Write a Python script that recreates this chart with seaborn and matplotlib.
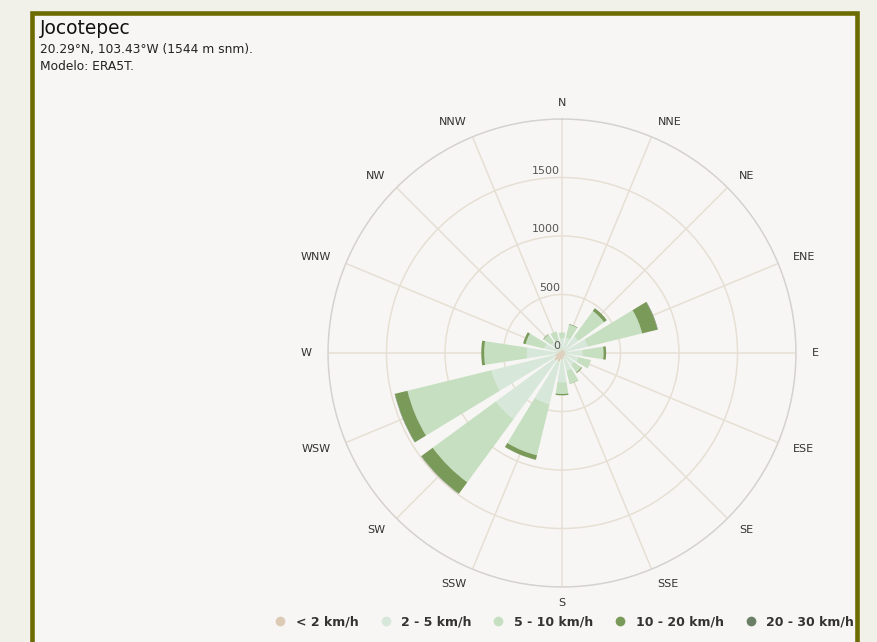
import numpy as np
import seaborn as sns
import matplotlib.pyplot as plt
from matplotlib.patches import Rectangle
from matplotlib.lines import Line2D

## Data: ========================================================================
directions = ["N", "NNE", "NE", "ENE", "E", "ESE", "SE", "SSE",
              "S", "SSW", "SW", "WSW", "W", "WNW", "NW", "NNW"]
speed_bins = ["< 2 km/h", "2 - 5 km/h", "5 - 10 km/h", "10 - 20 km/h", "20 - 30 km/h"]
calm_lt2 = [25, 25, 25, 25, 25, 25, 30, 35, 55, 75, 80, 60, 35, 25, 20, 20]
spd_2_5 = [100, 110, 150, 200, 150, 120, 100, 120, 195, 375, 620, 560, 265, 130, 95, 95]
spd_5_10 = [50, 115, 270, 480, 180, 110, 75, 115, 100, 450, 670, 740, 365, 165, 80, 75]
spd_10_20 = [0, 5, 30, 135, 22, 0, 8, 2, 12, 40, 120, 110, 25, 22, 5, 0]
spd_20_30 = [0, 0, 0, 4, 0, 0, 0, 0, 0, 0, 3, 3, 0, 0, 0, 0]
r_ticks = [0, 500, 1000, 1500]
r_max = 2000

title = "Jocotepec"
subtitle = ["20.29°N, 103.43°W (1544 m snm).", "Modelo: ERA5T."]

## Style: =======================================================================
page_bg, box_bg, frame_col = "#f1f1ea", "#f8f6f5", "#6b6b00"
grid_col = "#e6dfd3"
colors = sns.color_palette(["#dccab4", "#d7e7d9", "#c5dfc0", "#7a9a5a", "#6a7f66"])

sns.set_theme(style="white")
plt.rcParams["font.family"] = ["DejaVu Sans"]

W, H = 878, 642
fig = plt.figure(figsize=(W / 100, H / 100), dpi=100, facecolor=page_bg)

# chart box with olive frame
fig.add_artist(Rectangle((32.5 / W, -0.1), 825 / W, 1.1 - 12.5 / H,
                         transform=fig.transFigure, facecolor=box_bg,
                         edgecolor="none", zorder=-2))

cx, cy, rad = 562, 353, 234
ax = fig.add_axes([(cx - rad) / W, (H - cy - rad) / H, 2 * rad / W, 2 * rad / H],
                  projection="polar")
ax.set_facecolor("none")
ax.set_theta_zero_location("N")
ax.set_theta_direction(-1)

theta = np.deg2rad(np.arange(len(directions)) * 22.5)
width = np.deg2rad(22.5 * 0.78)
bottom = np.zeros(len(directions))
for lab, vals, col in zip(speed_bins, [calm_lt2, spd_2_5, spd_5_10, spd_10_20, spd_20_30], colors):
    vals = np.array(vals, dtype=float)
    ax.bar(theta, vals, width=width, bottom=bottom, color=col, edgecolor="none",
           linewidth=0, zorder=3, label=lab)
    bottom += vals

ax.set_ylim(0, r_max)
ax.set_yticks(r_ticks[1:] + [r_max])
ax.set_yticklabels([])
ax.set_xticks(theta)
ax.set_xticklabels([])
ax.grid(True, color=grid_col, linewidth=1.1, zorder=0)
ax.spines["polar"].set_color("#d4d2cf")
ax.spines["polar"].set_linewidth(1.0)

# radial labels along N axis
for v in r_ticks:
    ax.annotate(str(v), xy=(0, v), xytext=(-1.5, 5.0), textcoords="offset points",
                ha="right", va="center", fontsize=8, color="#555555", zorder=5)

# direction labels (left side right-aligned, right side left-aligned)
for t, d in zip(theta, directions):
    s = np.sin(t)
    ha = "center" if abs(s) < 0.01 else ("left" if s > 0 else "right")
    ax.text(t, r_max * 250 / rad, d, ha=ha, va="center", fontsize=8,
            color="#333333", clip_on=False)

# titles
fig.text(40 / W, 1 - 29 / H, title, fontsize=13.4, color="#111111", va="center")
for i, line in enumerate(subtitle):
    fig.text(40 / W, 1 - (50 + 16 * i) / H, line, fontsize=8.8, color="#222222", va="center")

# legend
handles = [Line2D([], [], marker="o", linestyle="none", markersize=7,
                  markerfacecolor=c, markeredgecolor="none") for c in colors]
fig.legend(handles, speed_bins, ncol=5, loc="center left",
           bbox_to_anchor=(275.5 / W, 1 - 622 / H), frameon=False,
           prop={"size": 9, "weight": "bold"}, labelcolor="#333333",
           borderpad=0, borderaxespad=0,
           handlelength=0.8, handletextpad=0.84, columnspacing=1.75)

# cover overflow past the frame, then the frame itself
fig.add_artist(Rectangle((860 / W, 0), 1, 1, transform=fig.transFigure,
                         facecolor=page_bg, edgecolor="none", zorder=20))
fig.add_artist(Rectangle((32.5 / W, -0.1), 825 / W, 1.1 - 12.5 / H,
                         transform=fig.transFigure, facecolor="none",
                         edgecolor=frame_col, linewidth=3.3, zorder=21))

plt.savefig("out.png", dpi=100, facecolor=page_bg)
plt.close()
